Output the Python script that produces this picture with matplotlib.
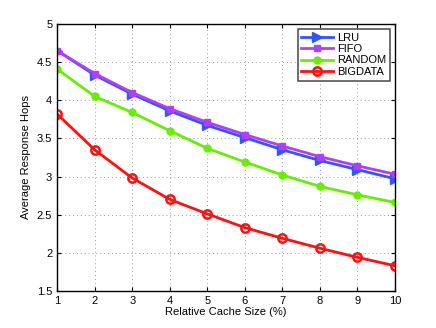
import matplotlib
matplotlib.use('Agg')
import matplotlib.pyplot as plt

# datos
cache_size = [1, 2, 3, 4, 5, 6, 7, 8, 9, 10]
lru = [4.65, 4.33, 4.08, 3.86, 3.67, 3.51, 3.35, 3.21, 3.09, 2.97]
fifo = [4.65, 4.35, 4.10, 3.89, 3.71, 3.55, 3.40, 3.26, 3.14, 3.03]
random_ = [4.41, 4.05, 3.84, 3.60, 3.37, 3.19, 3.02, 2.87, 2.76, 2.66]
bigdata = [3.82, 3.35, 2.98, 2.70, 2.51, 2.33, 2.19, 2.06, 1.94, 1.83]

y_ticks = [1.5, 2, 2.5, 3, 3.5, 4, 4.5, 5]
y_labels = ['1.5', '2', '2.5', '3', '3.5', '4', '4.5', '5']

plt.rcParams['font.family'] = ['Liberation Sans', 'DejaVu Sans']

fig = plt.figure(figsize=(4.36, 3.28), dpi=100)
ax = fig.add_axes([0.131, 0.113, 0.775, 0.814])

ax.plot(cache_size, lru, color='#2f55ff', lw=2, marker='>', ms=7,
        label='LRU')
ax.plot(cache_size, fifo, color='#b43cff', lw=2, marker='s', ms=5,
        label='FIFO')
ax.plot(cache_size, random_, color='#66f000', lw=2, marker='o', ms=5,
        label='RANDOM')
ax.plot(cache_size, bigdata, color='#ff1010', lw=2, marker='o', ms=6,
        mfc='none', mew=1.8, label='BIGDATA')

ax.set_xlim(1, 10)
ax.set_ylim(1.5, 5)
ax.set_xticks(cache_size)
ax.set_yticks(y_ticks)
ax.set_yticklabels(y_labels)
ax.tick_params(labelsize=8, direction='in', length=3, top=True, right=True)
ax.grid(True, linestyle=(0, (1, 3)), color='#999999', lw=0.7)
for s in ax.spines.values():
    s.set_linewidth(1.0)

ax.set_xlabel('Relative Cache Size (%)', fontsize=8, labelpad=1)
ax.set_ylabel('Average Response Hops', fontsize=8)

leg = ax.legend(loc='upper right', fontsize=8, fancybox=False,
                framealpha=1, edgecolor='#555555', handlelength=2.8,
                borderpad=0.35, labelspacing=0.12, handletextpad=0.4,
                borderaxespad=0.45)
leg.get_frame().set_linewidth(1.2)

fig.savefig('out.png', dpi=100)
